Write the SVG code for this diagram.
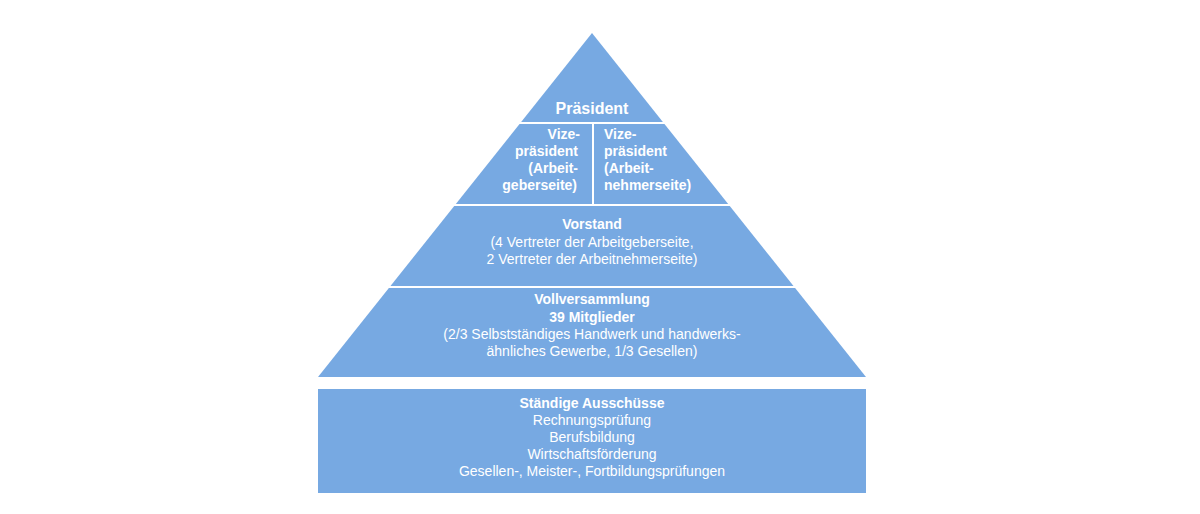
<svg xmlns="http://www.w3.org/2000/svg" width="1200" height="514" viewBox="0 0 1200 514">
<style>
text{font-family:"Liberation Sans",Arial,sans-serif;font-size:14px;fill:#fff}
.b{font-weight:bold}
.c{text-anchor:middle}
.sep{stroke:#fff;stroke-width:2}
.f{fill:#77a9e2}
</style>
<rect width="1200" height="514" fill="#fff"/>
<g id="pyramid">
<polygon class="f" points="592,33 866,377 318,377"/>
</g>
<g id="connectors">
<line class="sep" x1="510" y1="123" x2="676" y2="123"/>
<line class="sep" x1="593" y1="123" x2="593" y2="204"/>
<line class="sep" x1="440" y1="205" x2="746" y2="205"/>
<line class="sep" x1="380" y1="287" x2="806" y2="287"/>
</g>
<g id="praesident"><text class="b c" x="592" y="114" style="font-size:16px">Präsident</text></g>
<g id="vize1">
<text class="b" text-anchor="end" x="580" y="139">Vize-</text>
<text class="b" text-anchor="end" x="578" y="156">präsident</text>
<text class="b" text-anchor="end" x="578" y="173">(Arbeit-</text>
<text class="b" text-anchor="end" x="577" y="190">geberseite)</text>
</g>
<g id="vize2">
<text class="b" x="604" y="139">Vize-</text>
<text class="b" x="604" y="156">präsident</text>
<text class="b" x="604" y="173">(Arbeit-</text>
<text class="b" x="604" y="190">nehmerseite)</text>
</g>
<g id="vorstand">
<text class="b c" x="592" y="229">Vorstand</text>
<text class="c" x="592" y="247">(4 Vertreter der Arbeitgeberseite,</text>
<text class="c" x="592" y="264">2 Vertreter der Arbeitnehmerseite)</text>
</g>
<g id="vollversammlung">
<text class="b c" x="592" y="304">Vollversammlung</text>
<text class="b c" x="592" y="322">39 Mitglieder</text>
<text class="c" x="592" y="339">(2/3 Selbstständiges Handwerk und handwerks-</text>
<text class="c" x="592" y="356">ähnliches Gewerbe, 1/3 Gesellen)</text>
</g>
<g id="ausschuesse">
<rect class="f" x="318" y="389" width="548" height="104"/>
<text class="b c" x="592" y="408">Ständige Ausschüsse</text>
<text class="c" x="592" y="425">Rechnungsprüfung</text>
<text class="c" x="592" y="442">Berufsbildung</text>
<text class="c" x="592" y="459">Wirtschaftsförderung</text>
<text class="c" x="592" y="476">Gesellen-, Meister-, Fortbildungsprüfungen</text>
</g>
</svg>
